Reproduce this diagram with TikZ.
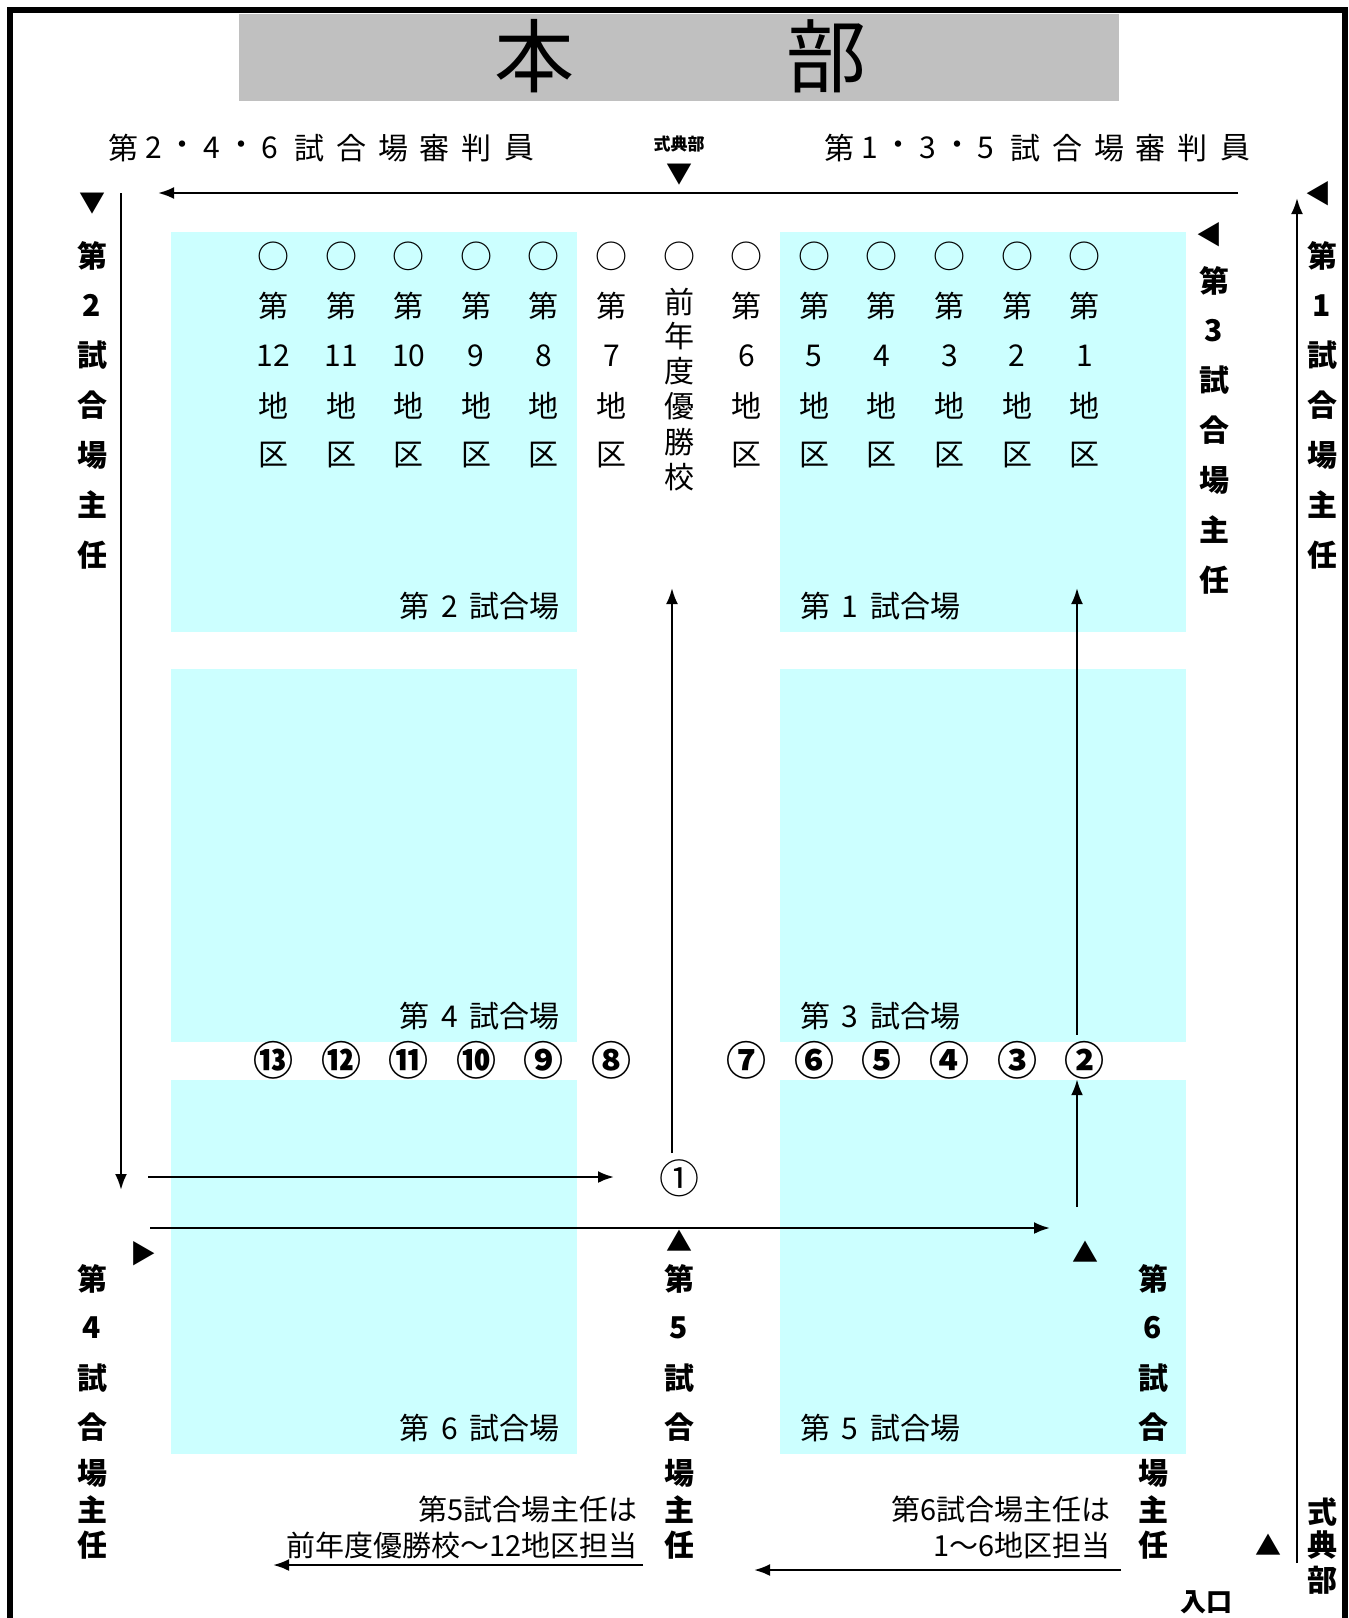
\documentclass[tikz,border=0pt]{standalone}
\usepackage{fontspec}
\setmainfont{Noto Sans CJK JP}
\usetikzlibrary{arrows.meta}
\definecolor{courtblue}{HTML}{CCFFFF}
\definecolor{hqgray}{HTML}{C0C0C0}
\newcommand{\fsz}[1]{\fontsize{#1}{#1}\selectfont}

\begin{document}
\begin{tikzpicture}[x=1pt,y=-1pt,>={Latex[length=16pt,width=12pt]},
    court/.style={fill=courtblue,draw=none,inner sep=0pt,minimum width=406pt},
    txt/.style={inner sep=0pt,font=\fsz{30}},
    btxt/.style={inner sep=0pt,font=\fsz{30}\bfseries},
    order/.style={inner sep=0pt,font=\fsz{40}\bfseries},
    arrowmark/.style={inner sep=0pt,font=\fsz{26}},
    flow/.style={->,line width=2.4pt}]
  \useasboundingbox (0,0) rectangle (1349,1618);
  % frame and headquarters
  \draw[line width=6pt] (10,1618) -- (10,10) -- (1345,10) -- (1345,1618);
  \fill[hqgray] (239,14) rectangle (1119,101);
  \node[inner sep=0pt,font=\fsz{80}] (hon) at (534,56) {本};
  \node[inner sep=0pt,font=\fsz{80}] (bu) at (826,56) {部};
  % referee rows
  \foreach \c/\dx in {第/0,2/31,・/59,4/89,・/118,6/147,試/186,合/228,場/270,審/311,判/353,員/396}
    \node[txt] (refL\dx) at (123+\dx,148) {\c};
  \foreach \c/\dx in {第/0,1/31,・/59,3/89,・/118,5/147,試/186,合/228,場/270,審/311,判/353,員/396}
    \node[txt] (refR\dx) at (839+\dx,148) {\c};
  \node[inner sep=0pt,font=\fsz{17}\bfseries] (shiki) at (679,144) {式典部};
  % courts
  \node[court,minimum height=400pt] (court2) at (374,432) {};
  \node[court,minimum height=400pt] (court1) at (983,432) {};
  \node[court,minimum height=373pt] (court4) at (374,855.5) {};
  \node[court,minimum height=373pt] (court3) at (983,855.5) {};
  \node[court,minimum height=374pt] (court6) at (374,1267) {};
  \node[court,minimum height=374pt] (court5) at (983,1267) {};
  \foreach \n in {2,4,6}
    \node[txt,anchor=south east] (name\n) at ([xshift=-17pt,yshift=12pt]court\n.south east) {第\hspace{0.4em}\n\hspace{0.4em}試合場};
  \foreach \n in {1,3,5}
    \node[txt,anchor=south west] (name\n) at ([xshift=20pt,yshift=12pt]court\n.south west) {第\hspace{0.4em}\n\hspace{0.4em}試合場};
  % districts
  \foreach \num/\col in {12/0,11/1,10/2,9/3,8/4,7/5,6/7,5/8,4/9,3/10,2/11,1/12} {
    \node[txt,font=\fsz{32}] (o\num) at (273.5+67.6*\col,256) {○};
    \node[txt] (dai\num) at (273.5+67.6*\col,306) {第};
    \node[txt] (no\num) at (273.5+67.6*\col,356) {\num};
    \node[txt] (chi\num) at (273.5+67.6*\col,406) {地};
    \node[txt] (ku\num) at (273.5+67.6*\col,455) {区};
  }
  \node[txt,font=\fsz{32}] (o0) at (679,256) {○};
  \foreach \c/\y in {前/302,年/336,度/371,優/406,勝/442,校/477}
    \node[txt] (win\y) at (679,\y) {\c};
  % order numbers
  \foreach \k/\col in {13/0,12/1,11/2,10/3,9/4,8/5,7/7,6/8,5/9,4/10,3/11,2/12}
    \node[order] (m\k) at (273.5+67.6*\col,1060) {\char\numexpr"245F+\k\relax};
  \node[order,font=\fsz{40}] (m1) at (679,1178) {①};
  % chiefs
  \foreach \c [count=\k from 0] in {第,2,試,合,場,主,任}
    \node[btxt] (chiefB\k) at (92,256+49.8*\k) {\c};
  \foreach \c [count=\k from 0] in {第,1,試,合,場,主,任}
    \node[btxt] (chiefA\k) at (1322,256+49.8*\k) {\c};
  \foreach \c [count=\k from 0] in {第,3,試,合,場,主,任}
    \node[btxt] (chiefC\k) at (1214,281+49.8*\k) {\c};
  \foreach \c/\y in {第/1279,4/1328,試/1378,合/1427,場/1473,主/1510,任/1545}
    \node[btxt] (chiefD\y) at (92,\y) {\c};
  \foreach \c/\y in {第/1279,5/1328,試/1378,合/1427,場/1473,主/1510,任/1545}
    \node[btxt] (chiefE\y) at (679,\y) {\c};
  \foreach \c/\y in {第/1279,6/1328,試/1378,合/1427,場/1473,主/1510,任/1545}
    \node[btxt] (chiefF\y) at (1153,\y) {\c};
  \foreach \c/\y in {式/1512,典/1545,部/1580}
    \node[btxt] (shikiV\y) at (1322,\y) {\c};
  \node[inner sep=0pt,font=\fsz{26}\bfseries] (iriguchi) at (1206,1602) {入口};
  % notes
  \node[inner sep=0pt,font=\fsz{29},anchor=east] (note5a) at (638,1509) {第5試合場主任は};
  \node[inner sep=0pt,font=\fsz{29},anchor=east] (note5b) at (638,1545) {前年度優勝校～12地区担当};
  \node[inner sep=0pt,font=\fsz{29},anchor=east] (note6a) at (1111,1509) {第6試合場主任は};
  \node[inner sep=0pt,font=\fsz{29},anchor=east] (note6b) at (1111,1545) {1～6地区担当};
  % markers
  \node[arrowmark] (tri1) at (679,175) {▼};
  \node[arrowmark] (tri2) at (92,204) {▼};
  \node[arrowmark] (tri3) at (1318,194) {◀};
  \node[arrowmark] (tri4) at (1209,235) {◀};
  \node[arrowmark] (tri5) at (143,1254) {▶};
  \node[arrowmark] (tri6) at (679,1241) {▲};
  \node[arrowmark] (tri7) at (1085,1252) {▲};
  \node[arrowmark] (tri8) at (1268,1545) {▲};
  % routes
  \coordinate (topR) at (1238,193);
  \coordinate (topL) at (158,193);
  \coordinate (leftT) at (121,193);
  \coordinate (leftB) at (121,1190);
  \coordinate (midL) at (148,1177);
  \coordinate (midR) at (614,1177);
  \coordinate (lowL) at (150,1228);
  \coordinate (lowR) at (1050,1228);
  \coordinate (ctop) at (672,588);
  \coordinate (rtop) at (1077,588);
  \coordinate (rbot) at (1077,1207);
  \coordinate (edgeB) at (1297,1563);
  \coordinate (edgeT) at (1297,198);
  \coordinate (n5R) at (643,1565);
  \coordinate (n5L) at (273,1565);
  \coordinate (n6R) at (1121,1570);
  \coordinate (n6L) at (754,1570);
  \draw[flow] (topR) -- (topL);
  \draw[flow] (leftT) -- (leftB);
  \draw[flow] (midL) -- (midR);
  \draw[flow] (lowL) -- (lowR);
  \draw[flow,shorten <=6pt] (m1.north -| ctop) -- (ctop);
  \draw[flow,shorten <=6pt] (m2.north -| rtop) -- (rtop);
  \draw[flow] (rbot) -- (m2.south -| rbot);
  \draw[flow] (edgeB) -- (edgeT);
  \draw[flow] (n5R) -- (n5L);
  \draw[flow] (n6R) -- (n6L);
\end{tikzpicture}
\end{document}
